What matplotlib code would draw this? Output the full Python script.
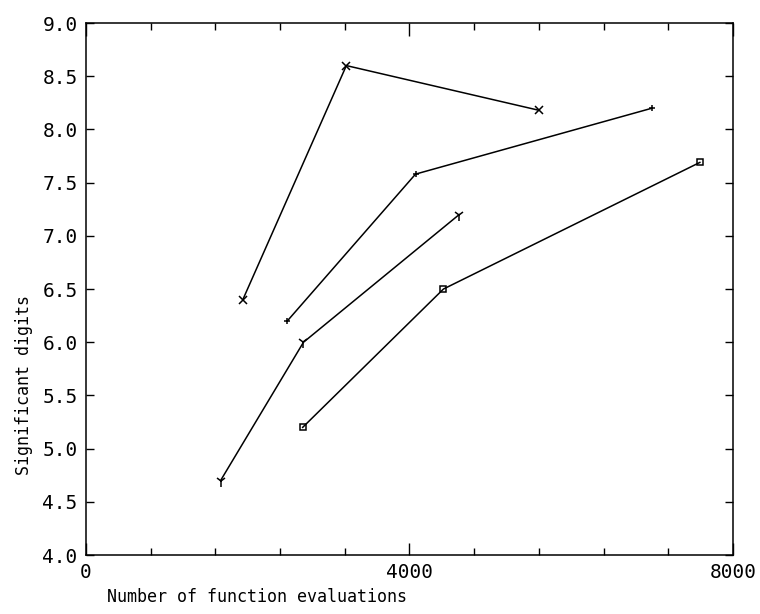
import matplotlib
matplotlib.use("Agg")
import matplotlib.pyplot as plt
from matplotlib.ticker import MultipleLocator

# four runs
evals_a = [1940, 3220, 5600]
digits_a = [6.4, 8.6, 8.18]
evals_b = [2490, 4075, 7000]
digits_b = [6.2, 7.58, 8.2]
evals_c = [1665, 2690, 4615]
digits_c = [4.7, 6.0, 7.2]
evals_d = [2680, 4420, 7590]
digits_d = [5.2, 6.5, 7.69]

# plotter-ish look: monospaced, thin
plt.rcParams['font.family'] = ['DejaVu Sans Mono']
plt.rcParams['font.size'] = 12

fig = plt.figure(figsize=(7.6, 6.14), dpi=100)
ax = fig.add_axes([0.113, 0.096, 0.8515, 0.8665])

ax.plot(evals_a, digits_a, color='black', lw=1.1, marker='x', ms=6, mew=1.1)
ax.plot(evals_b, digits_b, color='black', lw=1.1, marker='+', ms=5, mew=1.1)
ax.plot(evals_c, digits_c, color='black', lw=1.1, marker='1', ms=8, mew=1.1)
ax.plot(evals_d, digits_d, color='black', lw=1.1, marker='s', ms=5, mew=1.1,
        mfc='none')

ax.set_xlim(0, 8000)
ax.set_ylim(4.0, 9.0)
ax.xaxis.set_major_locator(MultipleLocator(4000))
ax.xaxis.set_minor_locator(MultipleLocator(800))
ax.yaxis.set_major_locator(MultipleLocator(0.5))
ax.set_yticklabels([f"{v:.1f}" for v in ax.get_yticks()])

ax.tick_params(axis='both', which='both', direction='in', top=True, right=True,
               color='black', width=1.0, labelsize=14)
ax.tick_params(axis='x', which='major', length=9, pad=6)
ax.tick_params(axis='x', which='minor', length=5)
ax.tick_params(axis='y', which='major', length=6, pad=6)
for s in ax.spines.values():
    s.set_linewidth(1.1)

ax.set_ylabel("Significant digits", fontsize=12)
ax.yaxis.set_label_coords(-0.082, 0.32)
ax.set_xlabel("Number of function evaluations", fontsize=12)
ax.xaxis.set_label_coords(0.265, -0.062)

fig.savefig("out.png", dpi=100)
